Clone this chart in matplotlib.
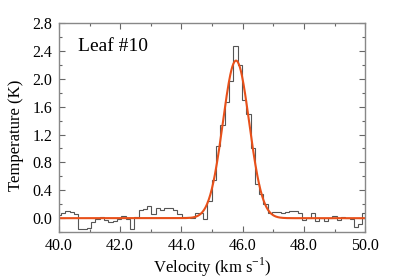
import numpy as np
import matplotlib
matplotlib.use("Agg")
import matplotlib.pyplot as plt
from matplotlib.ticker import MultipleLocator, FormatStrFormatter

# Spectrum: channel edges start and width (km/s), brightness temperature per channel (K)
v_start = 39.93
dv = 0.1405
temps = [0.05, 0.07, 0.10, 0.09, 0.06, -0.16, -0.16, -0.14, -0.06, -0.01,
         0.02, -0.03, -0.05, -0.04, -0.01, 0.03, -0.01, -0.15, 0.01, 0.12,
         0.13, 0.17, 0.06, 0.14, 0.12, 0.14, 0.15, 0.12, 0.06, 0.02,
         0.01, 0.00, 0.08, 0.07, -0.01, 0.25, 0.55, 1.03, 1.33, 1.67,
         1.97, 2.47, 2.20, 1.70, 1.50, 1.01, 0.49, 0.34, 0.20, 0.08,
         0.095, 0.085, 0.08, 0.095, 0.10, 0.11, 0.08, -0.03, 0.00, 0.08,
         -0.04, 0.00, -0.04, 0.00, 0.03, -0.03, 0.02, 0.00, -0.01, -0.13,
         -0.09, 0.08]

# Gaussian fit parameters
fit_amp = 2.26
fit_center = 45.78
fit_sigma = 0.43

label_text = "Leaf #10"

plt.rcParams['font.family'] = ['Liberation Serif', 'DejaVu Serif']
plt.rcParams['mathtext.fontset'] = 'custom'
plt.rcParams['mathtext.rm'] = 'Liberation Serif'

fig = plt.figure(figsize=(3.95, 2.8), dpi=100)
ax = fig.add_axes([0.149, 0.171, 0.776, 0.747])

edges = v_start + dv * np.arange(len(temps) + 1)
ax.stairs(temps, edges, color='#555555', linewidth=0.8)

vfit = np.linspace(40.0, 50.0, 600)
tfit = fit_amp * np.exp(-0.5 * ((vfit - fit_center) / fit_sigma) ** 2)
ax.plot(vfit, tfit, color='#E8501A', linewidth=1.5)

ax.set_xlim(40.0, 50.0)
ax.set_ylim(-0.2, 2.8)
ax.xaxis.set_major_locator(MultipleLocator(2.0))
ax.xaxis.set_minor_locator(MultipleLocator(1.0))
ax.yaxis.set_major_locator(MultipleLocator(0.4))
ax.yaxis.set_minor_locator(MultipleLocator(0.2))
ax.xaxis.set_major_formatter(FormatStrFormatter('%.1f'))
ax.yaxis.set_major_formatter(FormatStrFormatter('%.1f'))

ax.tick_params(which='both', direction='in', top=True, right=True,
               color='#666666', labelsize=11.5, labelcolor='black')
ax.tick_params(which='major', length=4.5, width=0.8, pad=4.5)
ax.tick_params(which='minor', length=2.5, width=0.8)
for s in ax.spines.values():
    s.set_color('#888888')
    s.set_linewidth(1.0)

ax.set_xlabel(r"Velocity (km s$^{-1}$)", fontsize=12, labelpad=1)
ax.set_ylabel("Temperature (K)", fontsize=12)
ax.yaxis.set_label_coords(-0.113, 0.464)

ax.text(0.062, 0.867, label_text, transform=ax.transAxes, fontsize=14,
        ha='left', va='baseline')

fig.savefig("out.png", dpi=100)
